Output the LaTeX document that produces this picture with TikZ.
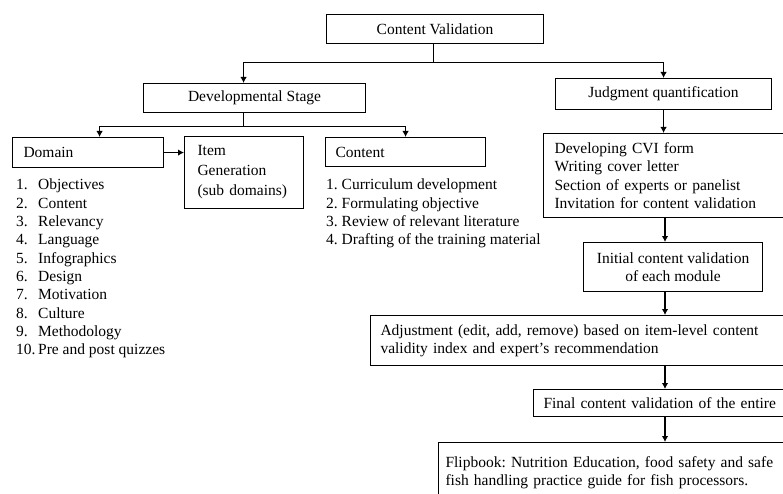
\documentclass[tikz,border=0pt]{standalone}
\usepackage{fontspec}
\setmainfont{Liberation Serif}
\usetikzlibrary{
  arrows.meta,
  positioning
}
\frenchspacing

\begin{document}
\begin{tikzpicture}[x=1pt, y=-1pt,
      box/.style={
        rectangle, draw=black, line width=1.1pt,
        inner ysep=0pt, anchor=north west, align=center,
        font=\fontsize{15.5}{18.3}\selectfont
      },
      lbox/.style={box, align=left},
      list/.style={
        inner sep=0pt, anchor=north west, align=left,
        font=\fontsize{15.5}{18.3}\selectfont
      },
      arrow/.style={-{Latex[length=6pt, width=6.5pt]}, line width=1.1pt},
      link/.style={line width=1.1pt}
    ]
      \useasboundingbox (0,0) rectangle (783,494);
      \clip (0,0) rectangle (783,494);

      % Top level
      \node[box, minimum width=217pt, minimum height=29pt] (cv) at (326,14) {Content Validation};
      \node[box, minimum width=222pt, minimum height=29pt] (dev) at (143,83) {Developmental Stage};
      \node[box, minimum width=216pt, minimum height=31pt] (judg) at (555,78) {Judgment quantification};

      % Developmental stage branch
      \node[lbox, inner xsep=11pt, text width=129pt, minimum height=30pt] (domain) at (12,137) {Domain};
      \node[lbox, inner xsep=13pt, text width=93pt, minimum height=72pt,
            font=\fontsize{15.5}{20}\selectfont] (item) at (184,136) {Item\\Generation\\(sub domains)};
      \node[lbox, inner xsep=10pt, text width=140pt, minimum height=29pt] (content) at (325,137) {Content};

      \node[list] (domlist) at (16,179) {%
        \makebox[22pt][l]{1.}Objectives\\
        \makebox[22pt][l]{2.}Content\\
        \makebox[22pt][l]{3.}Relevancy\\
        \makebox[22pt][l]{4.}Language\\
        \makebox[22pt][l]{5.}Infographics\\
        \makebox[22pt][l]{6.}Design\\
        \makebox[22pt][l]{7.}Motivation\\
        \makebox[22pt][l]{8.}Culture\\
        \makebox[22pt][l]{9.}Methodology\\
        \makebox[22pt][l]{10.}Pre and post quizzes};
      \node[list] (conlist) at (326,179) {%
        1. Curriculum development\\
        2. Formulating objective\\
        3. Review of relevant literature\\
        4. Drafting of the training material};

      % Judgment branch
      \node[lbox, inner xsep=11pt, text width=238pt, minimum height=84pt] (cvi) at (543,133) {%
        Developing CVI form\\
        Writing cover letter\\
        Section of experts or panelist\\
        Invitation for content validation};
      \node[box, minimum width=179pt, minimum height=49pt] (init) at (583,242) {Initial content validation\\of each module};
      \node[lbox, inner xsep=10pt, text width=410pt, minimum height=50pt] (adj) at (370,315) {%
        Adjustment (edit, add, remove) based on item-level content\\
        validity index and expert's recommendation};
      \node[lbox, inner xsep=10pt, text width=250pt, minimum height=27pt] (final) at (533,389) {Final content validation of the entire};
      \node[lbox, inner xsep=7pt, text width=356pt, minimum height=60pt] (flip) at (438,442) {%
        Flipbook: Nutrition Education, food safety and safe\\
        fish handling practice guide for fish processors.};

      % Connectors
      \draw[link] ([xshift=-2pt]cv.south) -- ++(0,18) coordinate (cvj);
      \draw[arrow] (cvj) -| ([xshift=-11pt]dev.north);
      \draw[arrow] (cvj) -| (judg.north);

      \draw[link] ([xshift=-11pt]dev.south) -- ++(0,13) coordinate (devj);
      \draw[arrow] (devj) -| ([xshift=11.5pt]domain.north);
      \draw[arrow] (devj) -| (content.north);
      \draw[arrow] (domain.east) -- (item.west |- domain.east);

      \coordinate (spine) at (665,0);
      \draw[arrow] (judg.south) -- (judg.south |- cvi.north);
      \draw[arrow] (spine |- cvi.south) -- (spine |- init.north);
      \draw[arrow] (spine |- init.south) -- (spine |- adj.north);
      \draw[arrow] (spine |- adj.south) -- (spine |- final.north);
      \draw[arrow] (spine |- final.south) -- (spine |- flip.north);
    \end{tikzpicture}
\end{document}
